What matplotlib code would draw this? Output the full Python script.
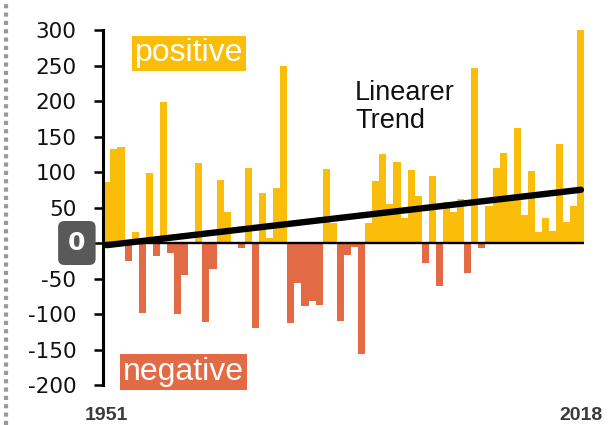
import matplotlib.pyplot as plt
import numpy as np
from matplotlib.lines import Line2D

# Data (deviation per year, 1951-2018)
years = list(range(1951, 2019))
values = [86, 133, 135, -26, 16, -98, 99, -18, 199, -14,
          -100, -45, 0, 113, -111, -36, 89, 43, 0, -7,
          105, -120, 70, 7, 77, 249, -112, -56, -89, -81,
          -87, 104, 28, -110, -17, -5, -157, 28, 87, 125,
          55, 114, 35, 103, 66, -28, 95, -61, 58, 44,
          62, -42, 246, -7, 52, 105, 127, 68, 162, 40,
          101, 15, 35, 17, 140, 29, 52, 301]
trend_years = [1951, 2018]
trend_values = [-3, 75]
y_ticks = [-200, -150, -100, -50, 0, 50, 100, 150, 200, 250, 300]
end_labels = ["1951", "2018"]

POS_COLOR = "#FABD0A"
NEG_COLOR = "#E26A45"

fig = plt.figure(figsize=(6.15, 4.25), dpi=100)
ax = fig.add_axes([0.168, 0.0941, 0.7824, 0.8353])

vals = np.array(values)
colors = [POS_COLOR if v >= 0 else NEG_COLOR for v in vals]
ax.bar(years, vals, width=1.0, color=colors, linewidth=0, zorder=2)

# zero line and trend
ax.axhline(0, color="black", lw=1.7, zorder=3)
ax.plot(trend_years, trend_values, color="black", lw=4.6,
        solid_capstyle="round", zorder=4)

ax.set_xlim(years[0] - 0.5, years[-1] + 0.5)
ax.set_ylim(-200, 300)
ax.set_yticks(y_ticks)
ax.set_yticklabels(["" if t == 0 else str(t) for t in y_ticks],
                   fontsize=15.5, family="DejaVu Sans", color="#111111")
ax.tick_params(axis="y", direction="out", length=6.5, width=1.8, pad=13)
ax.set_xticks([])

for side in ["top", "right", "bottom"]:
    ax.spines[side].set_visible(False)
ax.spines["left"].set_linewidth(2.2)

# "0" label in dark box
ax.text(-0.055, 0, "0", transform=ax.get_yaxis_transform(),
        ha="center", va="center", fontsize=18, fontweight="bold",
        color="white", family="DejaVu Sans",
        bbox=dict(boxstyle="round,pad=0.4,rounding_size=0.25",
                  fc="#595959", ec="none"), clip_on=False)

# labels
ax.text(0.178, 0.935, "positive", transform=ax.transAxes, ha="center",
        va="center", fontsize=23, color="white", family="Liberation Sans",
        bbox=dict(boxstyle="square,pad=0.08", fc=POS_COLOR, ec="none"))
ax.text(0.1667, 0.0366, "negative", transform=ax.transAxes, ha="center",
        va="center", fontsize=23, color="white", family="Liberation Sans",
        bbox=dict(boxstyle="square,pad=0.08", fc=NEG_COLOR, ec="none"),
        clip_on=False)
ax.text(0.523, 0.782, "Linearer\nTrend", transform=ax.transAxes,
        ha="left", va="center", fontsize=19.5, linespacing=1.1,
        color="#111111", family="Liberation Sans")

# year labels below the axis
for yr, lab in zip([years[0], years[-1]], end_labels):
    ax.text(yr, -0.098, lab, transform=ax.get_xaxis_transform(),
            ha="center", va="baseline", fontsize=14, fontweight="bold",
            color="#3a3a3a", family="Liberation Sans", clip_on=False)

# dotted frame edge on the left
fig.add_artist(Line2D([5.5 / 615, 5.5 / 615], [0, 1], transform=fig.transFigure,
                      color="#9a9a9a", lw=3, linestyle=(0, (1, 1))))

fig.savefig("out.png", dpi=100)
